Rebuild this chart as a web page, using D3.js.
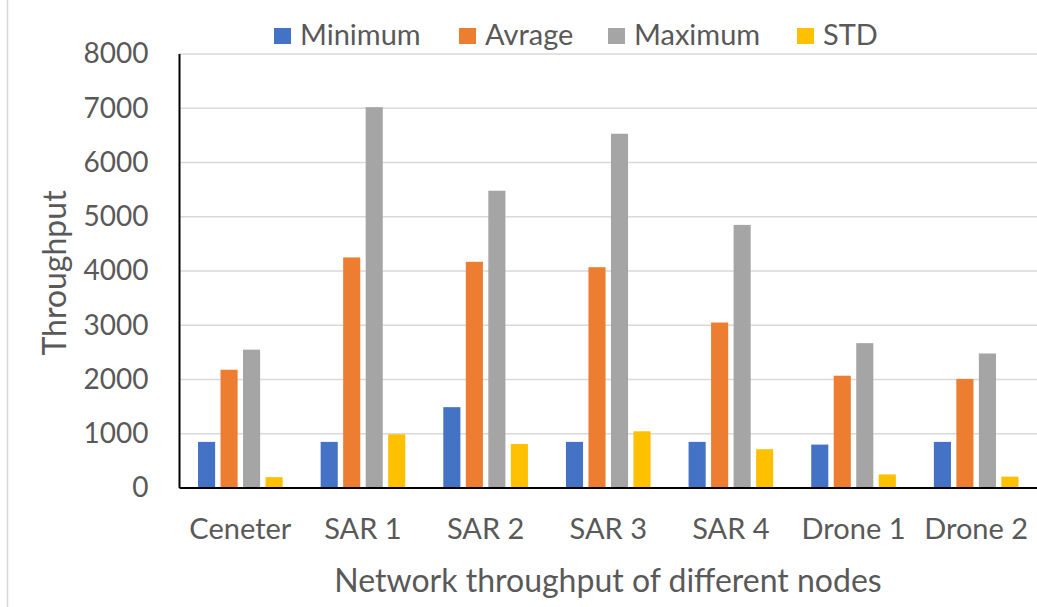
<!DOCTYPE html>
<html>
<head>
<meta charset="utf-8">
<script src="https://cdn.jsdelivr.net/npm/d3@7"></script>
<style>
  html, body { margin: 0; padding: 0; background: #fff; }
  svg { display: block; }
  text { font-family: Lato, "Open Sans", sans-serif; fill: #595959; }
</style>
</head>
<body>
<svg id="chart" width="1037" height="607"></svg>
<script>
// Node throughput summary
const categories = ["Ceneter", "SAR 1", "SAR 2", "SAR 3", "SAR 4", "Drone 1", "Drone 2"];
const seriesNames = ["Minimum", "Avrage", "Maximum", "STD"];
const minimum = [850, 850, 1490, 850, 850, 800, 850];
const avrage  = [2180, 4250, 4170, 4070, 3050, 2070, 2010];
const maximum = [2550, 7020, 5480, 6530, 4850, 2670, 2480];
const std     = [200, 990, 810, 1045, 715, 250, 210];
const yTicks  = [0, 1000, 2000, 3000, 4000, 5000, 6000, 7000, 8000];
const colors  = ["#4472C4", "#ED7D31", "#A5A5A5", "#FFC000"];

const seriesValues = [minimum, avrage, maximum, std];
const rows = categories.map((c, i) => ({
  category: c,
  values: seriesNames.map((s, k) => ({ series: s, value: seriesValues[k][i] }))
}));

const svg = d3.select("#chart");
const plot = { left: 179.5, right: 1037, top: 54, bottom: 488 };

// Chart frame edge on the left
svg.append("line")
  .attr("x1", 7.5).attr("x2", 7.5).attr("y1", 0).attr("y2", 607)
  .attr("stroke", "#d9d9d9").attr("stroke-width", 1.5);

const x0 = d3.scaleBand().domain(categories)
  .range([plot.left, plot.right]).paddingInner(0.31).paddingOuter(0.151);
const x1 = d3.scaleBand().domain(seriesNames)
  .range([0, x0.bandwidth()]).paddingInner(0.24).paddingOuter(0);
const y = d3.scaleLinear().domain([0, 8000]).range([plot.bottom, plot.top]);
const color = d3.scaleOrdinal().domain(seriesNames).range(colors);

// Horizontal gridlines
svg.append("g")
  .selectAll("line")
  .data(yTicks.filter(t => t > 0))
  .join("line")
  .attr("x1", plot.left).attr("x2", 1037)
  .attr("y1", d => y(d)).attr("y2", d => y(d))
  .attr("stroke", "#d9d9d9").attr("stroke-width", 1.5);

// Bars
svg.append("g")
  .selectAll("g")
  .data(rows)
  .join("g")
  .attr("transform", d => `translate(${x0(d.category)},0)`)
  .selectAll("rect")
  .data(d => d.values)
  .join("rect")
  .attr("x", d => x1(d.series))
  .attr("width", x1.bandwidth())
  .attr("y", d => y(d.value))
  .attr("height", d => y(0) - y(d.value))
  .attr("fill", d => color(d.series));

// Y axis
const yAxis = svg.append("g")
  .attr("transform", `translate(${plot.left},0)`)
  .call(d3.axisLeft(y).tickValues(yTicks).tickSize(0).tickPadding(31).tickFormat(d3.format("d")));
yAxis.select(".domain").attr("stroke", "#000").attr("stroke-width", 2)
  .attr("d", `M0,${plot.top}V${plot.bottom}`);
yAxis.selectAll("text").style("font-size", "28px").style("fill", "#595959")
  .style("font-family", "Lato, sans-serif");

// X axis
const xAxis = svg.append("g")
  .attr("transform", `translate(0,${plot.bottom})`)
  .call(d3.axisBottom(x0).tickSize(0).tickPadding(0));
xAxis.select(".domain").attr("stroke", "#000").attr("stroke-width", 2)
  .attr("d", `M${plot.left},0H1037`);
xAxis.selectAll("text")
  .attr("y", 51).attr("dy", null)
  .style("font-size", "29px").style("fill", "#595959")
  .style("font-family", "Lato, sans-serif");

// Axis titles
svg.append("text")
  .attr("transform", "translate(53,273) rotate(-90)")
  .attr("text-anchor", "middle").attr("dominant-baseline", "central")
  .style("font-size", "32px")
  .text("Throughput");

svg.append("text")
  .attr("x", 608).attr("y", 592)
  .attr("text-anchor", "middle")
  .style("font-size", "32px")
  .text("Network throughput of different nodes");

// Legend
const legendX = [274, 459, 608, 797];
const legend = svg.append("g")
  .selectAll("g")
  .data(seriesNames)
  .join("g")
  .attr("transform", (d, i) => `translate(${legendX[i]},28)`);
legend.append("rect")
  .attr("width", 17).attr("height", 16)
  .attr("fill", d => color(d));
legend.append("text")
  .attr("x", 26).attr("y", 16.5)
  .style("font-size", "29px")
  .text(d => d);
</script>
</body>
</html>
